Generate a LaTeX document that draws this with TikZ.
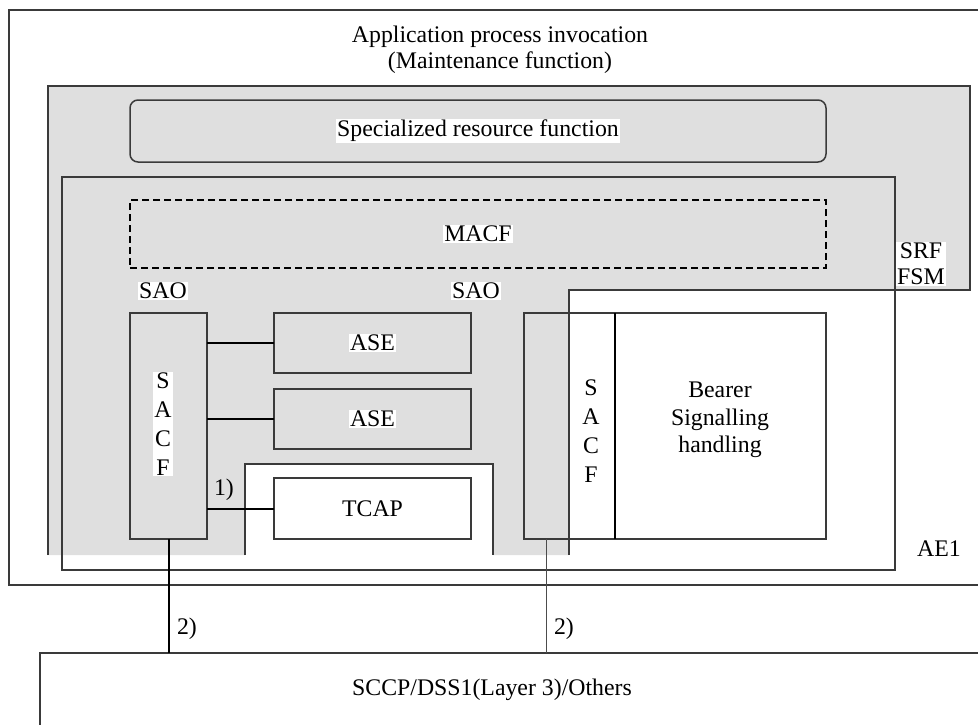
\documentclass[tikz,border=0pt]{standalone}
\usepackage{fontspec}
\setmainfont{Liberation Serif}
\definecolor{bggray}{HTML}{DFDFDF}
\definecolor{lngray}{HTML}{3A3A3A}
\begin{document}
\begin{tikzpicture}[x=1pt,y=-1pt,
  font=\fontsize{23.8}{27}\selectfont,
  ln/.style={line width=1.5pt, draw=lngray},
  box/.style={ln, rectangle, inner sep=0pt, outer sep=0pt, anchor=north west},
  wlabel/.style={fill=white, inner sep=1pt},
  plain/.style={inner sep=1pt},
  conn/.style={line width=2pt, draw=black},
  thinconn/.style={line width=1pt, draw=black!70},
]
\useasboundingbox (0,0) rectangle (978,724);
\clip (0,0) rectangle (978,724);

% outer box: application process invocation
\draw[ln] (9,10) rectangle (1000,585);
\node[plain, align=center, font=\fontsize{23.8}{26}\selectfont] (title) at (500,50) {Application process invocation\\(Maintenance function)};

% SRF FSM grey region
\fill[bggray] (48,86) -- (970,86) -- (970,290) -- (569,290) -- (569,555) -- (493,555) -- (493,464) -- (245,464) -- (245,555) -- (48,555) -- cycle;
\draw[ln] (48,555) -- (48,86) -- (970,86) -- (970,290) -- (569,290) -- (569,555);
\draw[ln] (245,555) -- (245,464) -- (493,464) -- (493,555);
\node[wlabel, align=center, font=\fontsize{23.8}{26}\selectfont] (srffsm) at (921,264) {SRF\\FSM};

% AE1 box
\draw[ln] (62,177) rectangle (895,570);
\node[plain] (ae1) at (939,549) {AE1};

% specialized resource function
\node[box, rounded corners=8pt, minimum width=696, minimum height=62] (srf) at (130,100) {};
\node[wlabel] (srftext) at (srf.center) {Specialized resource function};

% MACF
\node[box, draw=black, dash pattern=on 7pt off 4pt, minimum width=696, minimum height=68] (macf) at (130,200) {};
\node[wlabel] (macftext) at (macf.center) {MACF};

% SAO labels
\node[wlabel] (sao1) at (163,291) {SAO};
\node[wlabel] (sao2) at (476,291) {SAO};

% left SACF and ASEs
\node[box, fill=bggray, minimum width=77, minimum height=226] (sacfL) at (130,313) {};
\node[wlabel, align=center, font=\fontsize{23.8}{29}\selectfont] (sacfLtext) at (163,424) {S\\A\\C\\F};
\node[box, fill=bggray, minimum width=197, minimum height=60] (ase1) at (274,313) {};
\node[wlabel] (ase1text) at (ase1.center) {ASE};
\node[box, fill=bggray, minimum width=197, minimum height=60] (ase2) at (274,389) {};
\node[wlabel] (ase2text) at (ase2.center) {ASE};
\node[box, fill=white, minimum width=197, minimum height=61] (tcap) at (274,478) {TCAP};

\draw[conn] (sacfL.east |- ase1.west) -- (ase1.west);
\draw[conn] (sacfL.east |- ase2.west) -- (ase2.west);
\draw[conn] (sacfL.east |- tcap.west) -- (tcap.west);
\node[plain] (l1) at (224,490) {1)};

% right SACF + bearer signalling handling
\node[box, minimum width=91, minimum height=226] (sacfR) at (524,313) {};
\node[plain, align=center, font=\fontsize{23.8}{29}\selectfont] (sacfRtext) at (591,431) {S\\A\\C\\F};
\node[box, minimum width=211, minimum height=226] (bearer) at (615,313) {};
\node[plain, align=center, font=\fontsize{23.8}{27.5}\selectfont] (bearertext) at (720,420) {Bearer\\Signalling\\handling};
\draw[conn] (bearer.north west) -- (bearer.south west);

% SCCP box
\node[box, minimum width=1000, minimum height=200] (sccp) at (40,653) {};
\node[plain] (sccptext) at (492,690) {SCCP/DSS1(Layer 3)/Others};

% connections 2)
\draw[conn] (sacfL.south) -- (sacfL.south |- sccp.north);
\coordinate (r2) at (546,539);
\draw[thinconn] (r2) -- (r2 |- sccp.north);
\node[plain] (l2a) at (187,629) {2)};
\node[plain] (l2b) at (564,629) {2)};
\end{tikzpicture}
\end{document}
